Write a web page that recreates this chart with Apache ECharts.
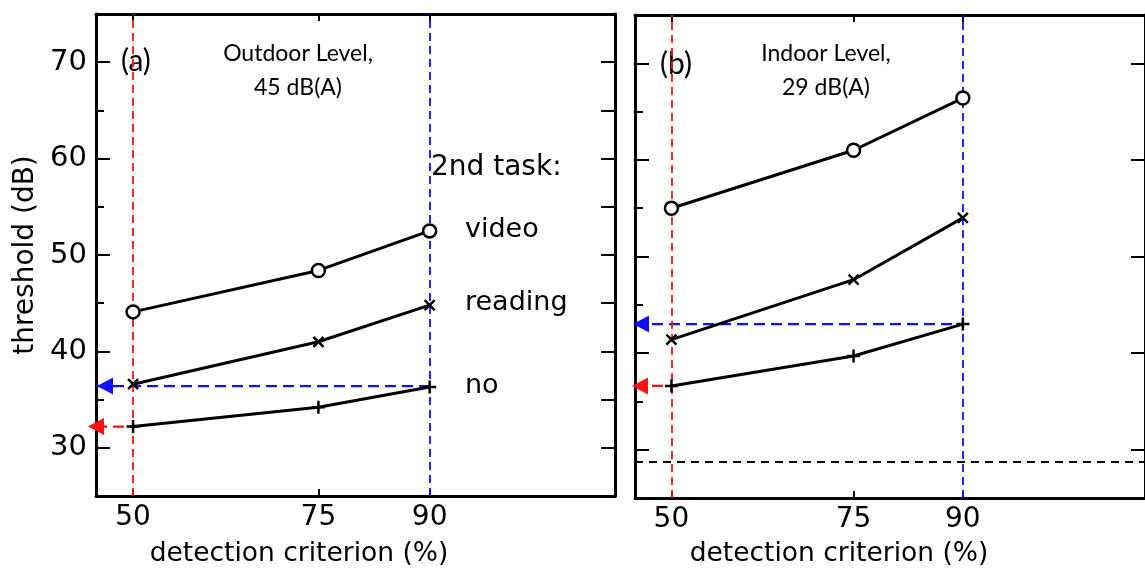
<!DOCTYPE html>
<html>
<head>
<meta charset="utf-8">
<script src="https://cdn.jsdelivr.net/npm/echarts@6.0.0/dist/echarts.min.js"></script>
<style>
  html, body { margin: 0; padding: 0; background: #fff; }
  #main { width: 1145px; height: 568px; }
</style>
</head>
<body>
<div id="main"></div>
<script>
// detection criterion ticks (%)
var critTicks = [50, 75, 90];
var yMajor = [30, 40, 50, 60, 70];
var yMinor = [35, 45, 55, 65];
var yAll = [30, 35, 40, 45, 50, 55, 60, 65, 70];

// (a) outdoor level, 45 dB(A)
var outdoorVideo = [44.1, 48.4, 52.5];
var outdoorReading = [36.6, 41.0, 44.8];
var outdoorNo = [32.2, 34.2, 36.3];

// (b) indoor level, 29 dB(A)
var indoorVideo = [55.0, 61.0, 66.4];
var indoorReading = [41.4, 47.6, 54.0];
var indoorNo = [36.6, 39.7, 43.0];

// arrow levels read at 50% (red) and 90% (blue)
var outdoorArrows = [32.2, 36.4];
var indoorArrows = [36.6, 43.0];
var indoorAmbient = [28.8];

var RED = '#ff1010';
var BLUE = '#1010ff';
var FONT = 'DejaVu Sans';

var chartDom = document.getElementById('main');
var myChart = echarts.init(chartDom);
var option;

function pairs(vals) {
  return critTicks.map(function (c, i) { return [c, vals[i]]; });
}

var crossPath = 'path://M0,0 L10,10 M10,0 L0,10';
var plusPath = 'path://M5,0 L5,10 M0,5 L10,5';

function dataSeries(name, vals, symbol, size, gi) {
  return {
    name: name,
    type: 'line',
    xAxisIndex: gi * 2,
    yAxisIndex: gi * 4,
    data: pairs(vals),
    symbol: symbol,
    symbolSize: size,
    showSymbol: true,
    lineStyle: { color: '#000', width: 3 },
    itemStyle: { color: '#fff', borderColor: '#000', borderWidth: 2.5 },
    z: 5,
    clip: false,
    silent: true
  };
}

function dash(color, w, t) {
  return { color: color, width: w, type: t };
}

// horizontal dashed arrow from a criterion back to the threshold axis
function arrowSeries(gi, level, toX, color, nudge) {
  return {
    type: 'line',
    xAxisIndex: gi * 2,
    yAxisIndex: gi * 4,
    data: [
      { value: [45, level], symbol: 'triangle', symbolRotate: 90, symbolOffset: [nudge, 0] },
      { value: [toX, level], symbol: 'none' }
    ],
    symbolSize: [17, 16],
    showSymbol: true,
    itemStyle: { color: color },
    lineStyle: dash(color, 2.2, [11, 6]),
    clip: false,
    silent: true,
    z: 4
  };
}

function guideSeries(gi, extra) {
  var lines = [
    { xAxis: critTicks[0], lineStyle: dash(RED, 1.8, [8, 5]) },
    { xAxis: critTicks[2], lineStyle: dash(BLUE, 1.8, [8, 5]) }
  ];
  if (extra) {
    lines.push({ yAxis: extra[0], lineStyle: dash('#000', 1.8, [8, 6]) });
  }
  return {
    type: 'line',
    xAxisIndex: gi * 2,
    yAxisIndex: gi * 4,
    data: [],
    clip: false,
    silent: true,
    z: 3,
    markLine: {
      silent: true,
      symbol: 'none',
      label: { show: false },
      animation: false,
      data: lines
    }
  };
}

var grids = [
  { left: 96, top: 14, width: 519, height: 482 },
  { left: 635, top: 15, width: 521, height: 483 }
];

var xAxes = [];
var yAxes = [];
grids.forEach(function (g, gi) {
  xAxes.push({
    type: 'value', gridIndex: gi, position: 'bottom', min: 45, max: 115,
    axisLine: { show: true, lineStyle: { color: '#000', width: 3 } },
    axisTick: { show: true, inside: true, length: 7, customValues: critTicks, lineStyle: { color: '#000', width: 2 } },
    axisLabel: { customValues: critTicks, margin: 8, color: '#000', fontSize: 28, fontFamily: FONT },
    splitLine: { show: false }
  });
  xAxes.push({
    type: 'value', gridIndex: gi, position: 'top', min: 45, max: 115,
    axisLine: { show: true, lineStyle: { color: '#000', width: 3 } },
    axisTick: { show: true, inside: true, length: 7, customValues: critTicks, lineStyle: { color: '#000', width: 2 } },
    axisLabel: { show: false },
    splitLine: { show: false }
  });
  yAxes.push({
    type: 'value', gridIndex: gi, position: 'left', min: 25, max: 75,
    name: gi === 0 ? 'threshold (dB)' : '',
    nameLocation: 'middle', nameGap: 56,
    nameTextStyle: { color: '#000', fontSize: 28, fontFamily: FONT },
    axisLine: { show: true, lineStyle: { color: '#000', width: 3 } },
    axisTick: { show: true, inside: true, length: 14, customValues: yMajor, lineStyle: { color: '#000', width: 2 } },
    axisLabel: { show: gi === 0, customValues: yMajor, margin: 9, color: '#000', fontSize: 29, fontFamily: FONT },
    splitLine: { show: false }
  });
  yAxes.push({
    type: 'value', gridIndex: gi, position: 'left', offset: 0, min: 25, max: 75,
    axisLine: { show: false },
    axisTick: { show: true, inside: true, length: 8, customValues: yMinor, lineStyle: { color: '#000', width: 2 } },
    axisLabel: { show: false },
    splitLine: { show: false }
  });
  yAxes.push({
    type: 'value', gridIndex: gi, position: 'right', min: 25, max: 75,
    axisLine: { show: true, lineStyle: { color: '#000', width: 3 } },
    axisTick: { show: true, inside: true, length: 14, customValues: gi === 0 ? yAll : yMajor, lineStyle: { color: '#000', width: 2 } },
    axisLabel: { show: false },
    splitLine: { show: false }
  });
  // placeholder to keep 4 y axes per grid
  yAxes.push({
    type: 'value', gridIndex: gi, position: 'right', min: 25, max: 75, show: false
  });
});

option = {
  animation: false,
  backgroundColor: '#fff',
  grid: grids,
  xAxis: xAxes,
  yAxis: yAxes,
  series: [
    guideSeries(0, null),
    arrowSeries(0, outdoorArrows[0], critTicks[0], RED, 0),
    arrowSeries(0, outdoorArrows[1], critTicks[2], BLUE, 9),
    dataSeries('video', outdoorVideo, 'circle', 13, 0),
    dataSeries('reading', outdoorReading, crossPath, 10, 0),
    dataSeries('no', outdoorNo, plusPath, 13, 0),
    guideSeries(1, indoorAmbient),
    arrowSeries(1, indoorArrows[0], critTicks[0], RED, 5),
    arrowSeries(1, indoorArrows[1], critTicks[2], BLUE, 6),
    dataSeries('video', indoorVideo, 'circle', 13, 1),
    dataSeries('reading', indoorReading, crossPath, 10, 1),
    dataSeries('no', indoorNo, plusPath, 13, 1)
  ],
  graphic: [
    { type: 'text', x: 121, y: 46, silent: true, style: { text: '(a)', fill: '#000', fontSize: 30, fontFamily: 'Lato' } },
    { type: 'text', x: 660, y: 49, silent: true, style: { text: '(b)', fill: '#000', fontSize: 30, fontFamily: 'Lato' } },
    { type: 'text', x: 298, y: 37, silent: true, style: { text: 'Outdoor Level,\n45 dB(A)', fill: '#000', fontSize: 23, fontFamily: 'Lato', align: 'center', lineHeight: 34 } },
    { type: 'text', x: 826, y: 37, silent: true, style: { text: 'Indoor Level,\n29 dB(A)', fill: '#000', fontSize: 23, fontFamily: 'Lato', align: 'center', lineHeight: 34 } },
    { type: 'text', x: 431, y: 154, silent: true, style: { text: '2nd task:', fill: '#000', fontSize: 28, fontFamily: FONT } },
    { type: 'text', x: 465, y: 216, silent: true, style: { text: 'video', fill: '#000', fontSize: 27, fontFamily: FONT } },
    { type: 'text', x: 465, y: 289, silent: true, style: { text: 'reading', fill: '#000', fontSize: 27, fontFamily: FONT } },
    { type: 'text', x: 465, y: 372, silent: true, style: { text: 'no', fill: '#000', fontSize: 27, fontFamily: FONT } },
    { type: 'text', x: 299, y: 541, silent: true, style: { text: 'detection criterion (%)', fill: '#000', fontSize: 26.5, fontFamily: FONT, align: 'center' } },
    { type: 'text', x: 839, y: 541, silent: true, style: { text: 'detection criterion (%)', fill: '#000', fontSize: 26.5, fontFamily: FONT, align: 'center' } }
  ]
};

option && myChart.setOption(option);
</script>
</body>
</html>
